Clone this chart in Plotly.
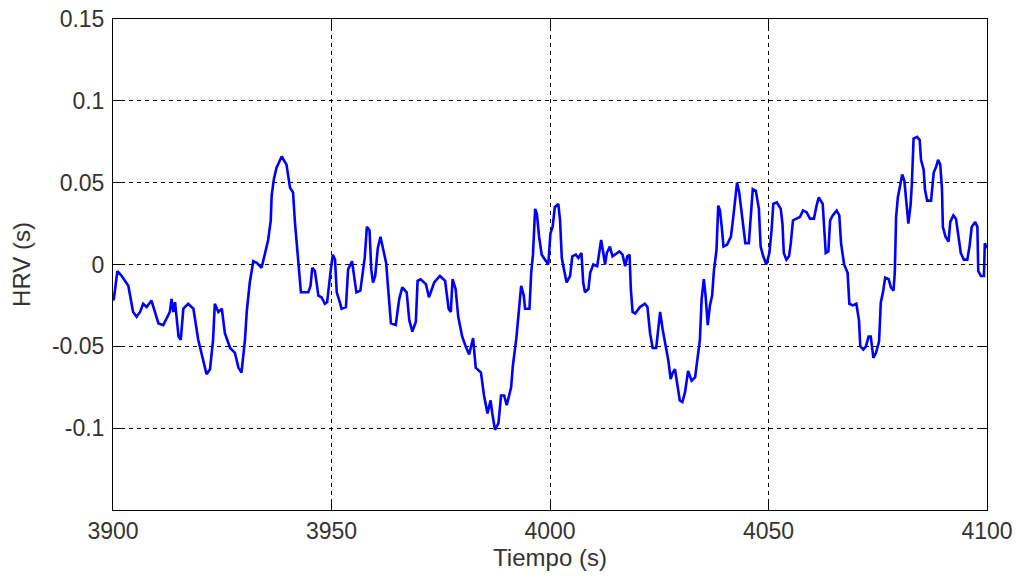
import plotly.graph_objects as go

tiempo = [3900.0, 3900.2, 3901.0, 3902.0, 3903.5, 3904.6, 3905.4, 3906.2, 3906.9, 3907.7, 3908.8,
          3910.4, 3911.5, 3913.0, 3913.4, 3913.8, 3914.2, 3915.0, 3915.5, 3916.1, 3917.2, 3918.4,
          3919.5, 3920.6, 3921.4, 3922.2, 3922.9, 3923.3, 3924.1, 3924.9, 3925.6, 3926.8, 3927.9,
          3928.7, 3929.4, 3930.2, 3930.6, 3931.3, 3932.1, 3932.9, 3934.0, 3934.8, 3935.5, 3936.1,
          3936.3, 3936.8, 3937.4, 3938.6, 3939.7, 3940.5, 3941.2, 3941.6, 3942.0, 3942.6, 3943.0,
          3944.7, 3945.2, 3945.6, 3946.2, 3947.0, 3947.7, 3948.5, 3949.0, 3949.8, 3950.3, 3950.8,
          3951.2, 3951.9, 3952.3, 3953.3, 3953.8, 3954.7, 3955.3, 3955.7, 3956.6, 3957.1, 3957.6,
          3958.1, 3958.7, 3959.1, 3959.5, 3960.0, 3960.6, 3961.2, 3961.9, 3962.5, 3963.0, 3963.6,
          3964.7, 3965.5, 3966.2, 3967.2, 3967.8, 3968.5, 3969.3, 3969.7, 3970.4, 3971.6, 3972.3,
          3973.5, 3974.8, 3976.0, 3976.8, 3977.3, 3977.7, 3978.4, 3979.0, 3979.9, 3980.7, 3981.5,
          3982.4, 3983.0, 3984.2, 3984.9, 3985.7, 3986.4, 3986.8, 3987.4, 3988.2, 3988.8, 3989.5,
          3990.1, 3991.1, 3991.5, 3992.3, 3992.9, 3993.4, 3994.0, 3994.3, 3995.3, 3995.7, 3996.1,
          3996.6, 3997.0, 3997.5, 3998.1, 3998.9, 3999.6, 4000.1, 4000.6, 4001.1, 4001.9, 4002.3,
          4002.7, 4003.2, 4003.8, 4004.6, 4005.1, 4005.9, 4006.5, 4007.2, 4007.6, 4008.0, 4008.8,
          4009.2, 4009.9, 4010.8, 4011.4, 4011.7, 4012.2, 4012.6, 4013.0, 4013.7, 4014.3, 4014.9,
          4015.9, 4016.6, 4017.2, 4017.7, 4018.2, 4018.5, 4018.9, 4019.5, 4020.6, 4021.7, 4022.3,
          4022.9, 4023.5, 4024.3, 4024.8, 4025.2, 4025.8, 4026.6, 4027.1, 4027.6, 4028.1, 4028.6,
          4029.1, 4029.7, 4030.3, 4030.9, 4031.6, 4032.4, 4033.2, 4033.7, 4034.3, 4034.7, 4035.2,
          4035.6, 4036.1, 4036.6, 4037.1, 4037.5, 4038.1, 4038.5, 4038.9, 4039.3, 4039.7, 4040.5,
          4041.4, 4041.9, 4042.4, 4042.8, 4043.3, 4043.8, 4044.3, 4044.7, 4045.5, 4045.9, 4046.4,
          4047.1, 4047.8, 4048.2, 4048.8, 4049.5, 4050.2, 4050.7, 4051.1, 4051.9, 4052.8, 4053.2,
          4053.5, 4054.1, 4054.7, 4055.1, 4055.6, 4056.4, 4057.2, 4057.9, 4058.7, 4059.5, 4060.4,
          4061.0, 4061.5, 4062.4, 4062.7, 4063.1, 4063.7, 4064.1, 4064.7, 4065.6, 4066.2, 4066.6,
          4067.3, 4068.1, 4068.5, 4069.3, 4070.1, 4070.7, 4071.0, 4071.7, 4072.3, 4072.9, 4073.4,
          4074.0, 4074.6, 4075.3, 4075.7, 4076.2, 4076.7, 4077.5, 4078.0, 4078.6, 4078.9, 4079.2,
          4079.6, 4080.2, 4080.6, 4081.1, 4081.5, 4082.0, 4082.5, 4082.8, 4083.2, 4084.0, 4084.6,
          4084.9, 4085.5, 4085.8, 4086.3, 4087.2, 4087.8, 4088.4, 4088.8, 4089.3, 4089.7, 4089.9,
          4090.5, 4091.2, 4091.6, 4092.3, 4092.9, 4093.4, 4094.0, 4094.7, 4095.5, 4096.0, 4096.5,
          4097.3, 4097.8, 4098.0, 4098.6, 4099.3, 4099.5, 4100.0]

hrv = [-0.022, -0.021, -0.004, -0.007, -0.013, -0.029, -0.032, -0.029, -0.024, -0.026, -0.022,
       -0.036, -0.037, -0.029, -0.021, -0.029, -0.023, -0.044, -0.046, -0.027, -0.024, -0.027,
       -0.046, -0.058, -0.067, -0.064, -0.046, -0.024, -0.029, -0.027, -0.042, -0.051, -0.054,
       -0.063, -0.066, -0.046, -0.029, -0.011, 0.002, 0.001, -0.002, 0.007, 0.015, 0.027,
       0.042, 0.052, 0.059, 0.066, 0.061, 0.047, 0.044, 0.027, 0.015, -0.007, -0.017,
       -0.017, -0.013, -0.002, -0.004, -0.019, -0.020, -0.024, -0.023, -0.004, 0.006, 0.003,
       -0.017, -0.023, -0.027, -0.026, -0.003, 0.002, -0.011, -0.017, -0.016, -0.004, 0.004,
       0.023, 0.021, -0.003, -0.011, -0.007, 0.010, 0.017, 0.009, 0.001, -0.016, -0.036,
       -0.037, -0.021, -0.014, -0.017, -0.034, -0.041, -0.035, -0.010, -0.009, -0.012, -0.020,
       -0.011, -0.007, -0.010, -0.027, -0.029, -0.009, -0.015, -0.032, -0.044, -0.050, -0.055,
       -0.045, -0.063, -0.066, -0.080, -0.091, -0.083, -0.091, -0.101, -0.097, -0.080, -0.080,
       -0.086, -0.075, -0.062, -0.045, -0.027, -0.013, -0.019, -0.027, -0.027, -0.005, 0.006,
       0.034, 0.031, 0.017, 0.006, 0.003, 0.000, 0.019, 0.023, 0.035, 0.037, 0.027,
       0.004, -0.003, -0.011, -0.007, 0.005, 0.006, 0.004, 0.007, -0.011, -0.017, -0.015,
       -0.005, 0.000, -0.001, 0.009, 0.015, 0.007, 0.000, 0.007, 0.011, 0.005, 0.006,
       0.008, 0.006, -0.001, 0.005, 0.006, -0.015, -0.029, -0.030, -0.026, -0.024, -0.026,
       -0.042, -0.051, -0.051, -0.038, -0.029, -0.040, -0.051, -0.059, -0.070, -0.066, -0.064,
       -0.074, -0.083, -0.084, -0.078, -0.065, -0.071, -0.069, -0.058, -0.046, -0.021, -0.009,
       -0.019, -0.037, -0.025, -0.019, -0.004, 0.009, 0.036, 0.033, 0.023, 0.011, 0.012,
       0.017, 0.028, 0.041, 0.050, 0.044, 0.034, 0.023, 0.013, 0.013, 0.027, 0.046,
       0.045, 0.034, 0.011, 0.005, 0.000, 0.007, 0.021, 0.037, 0.038, 0.034, 0.025,
       0.007, 0.003, 0.005, 0.013, 0.027, 0.028, 0.029, 0.033, 0.032, 0.028, 0.028,
       0.036, 0.041, 0.037, 0.021, 0.007, 0.008, 0.027, 0.030, 0.033, 0.030, 0.013,
       0.000, -0.005, -0.024, -0.025, -0.024, -0.034, -0.050, -0.052, -0.050, -0.044, -0.044,
       -0.057, -0.054, -0.047, -0.023, -0.017, -0.008, -0.009, -0.014, -0.016, -0.005, 0.029,
       0.041, 0.050, 0.055, 0.051, 0.040, 0.025, 0.036, 0.049, 0.077, 0.078, 0.076,
       0.064, 0.058, 0.046, 0.039, 0.039, 0.056, 0.060, 0.064, 0.061, 0.046, 0.023,
       0.017, 0.014, 0.026, 0.030, 0.028, 0.017, 0.007, 0.003, 0.003, 0.011, 0.023,
       0.026, 0.023, -0.004, -0.007, -0.007, 0.013, 0.010]

x_ticks = [3900, 3950, 4000, 4050, 4100]
y_ticks = [-0.1, -0.05, 0, 0.05, 0.1, 0.15]
y_tick_text = ["-0.1", "-0.05", "0", "0.05", "0.1", "0.15"]

FONT = "Liberation Sans, Arial, sans-serif"

fig = go.Figure()
fig.add_trace(go.Scatter(x=tiempo, y=hrv, mode="lines",
                         line=dict(color="#0000FF", width=2.6), showlegend=False))

axis_common = dict(
    showline=True, linecolor="black", linewidth=1, mirror="ticks",
    ticks="inside", ticklen=9, tickcolor="black", tickwidth=1,
    showgrid=True, gridcolor="black", gridwidth=1, griddash="4px,4px",
    zeroline=False, automargin=False,
    tickfont=dict(family=FONT, size=23, color="#333"),
)

fig.update_layout(
    width=1017, height=577,
    margin=dict(l=113, r=30, t=19, b=67),
    paper_bgcolor="white", plot_bgcolor="white",
    xaxis=dict(range=[3900, 4100], tickvals=x_ticks, ticktext=[str(v) for v in x_ticks],
               ticklabelstandoff=0,
               title=dict(text="Tiempo (s)", standoff=5,
                          font=dict(family=FONT, size=24, color="#333")),
               **axis_common),
    yaxis=dict(range=[-0.15, 0.15], tickvals=y_ticks, ticktext=y_tick_text,
               ticklabelstandoff=3,
               title=dict(text="HRV (s)", standoff=14,
                          font=dict(family=FONT, size=24, color="#333")),
               **axis_common),
)

fig.write_html("out.html")
